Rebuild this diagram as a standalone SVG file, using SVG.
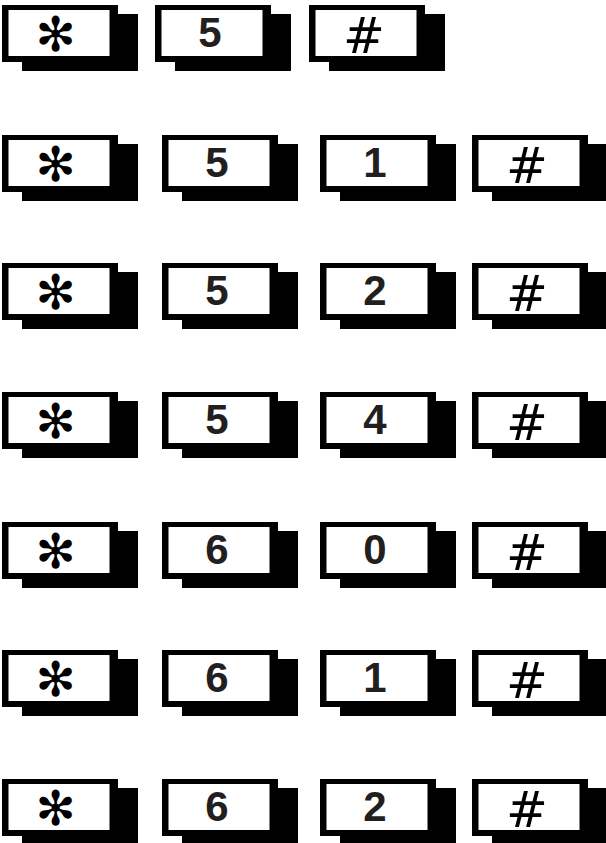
<svg xmlns="http://www.w3.org/2000/svg" xmlns:xlink="http://www.w3.org/1999/xlink" width="606" height="843" viewBox="0 0 606 843">
<style>
.digit{font-family:"Liberation Sans",Arial,sans-serif;font-weight:bold;font-size:42px;fill:#231f20;text-anchor:middle}
.hash{font-family:"DejaVu Sans",sans-serif;font-size:50px;fill:#000;text-anchor:middle}
.star{font-family:"DejaVu Sans",sans-serif;font-size:48px;fill:#000;text-anchor:middle}
</style>
<defs>
<g id="key">
<rect x="20" y="9" width="116" height="57" fill="#000"/>
<rect x="0" y="0" width="116" height="57" fill="#000"/>
<rect x="6.5" y="5" width="101" height="46" fill="#fff"/>
</g>
</defs>
<rect width="606" height="843" fill="#fff"/>
<g id="connectors"/>
<g id="r1k1"><use xlink:href="#key" x="2" y="5"/><text class="star" x="55.5" y="51">✻</text></g>
<g id="r1k2"><use xlink:href="#key" x="155" y="5"/><text class="digit" x="210" y="47">5</text></g>
<g id="r1k3"><use xlink:href="#key" x="309" y="5"/><text class="hash" x="364" y="53">#</text></g>

<g id="r2k1"><use xlink:href="#key" x="2" y="135"/><text class="star" x="55.5" y="181">✻</text></g>
<g id="r2k2"><use xlink:href="#key" x="162" y="135"/><text class="digit" x="217" y="177">5</text></g>
<g id="r2k3"><use xlink:href="#key" x="320" y="135"/><text class="digit" x="375" y="177">1</text></g>
<g id="r2k4"><use xlink:href="#key" x="472" y="135"/><text class="hash" x="527" y="183">#</text></g>

<g id="r3k1"><use xlink:href="#key" x="2" y="263"/><text class="star" x="55.5" y="309">✻</text></g>
<g id="r3k2"><use xlink:href="#key" x="162" y="263"/><text class="digit" x="217" y="305">5</text></g>
<g id="r3k3"><use xlink:href="#key" x="320" y="263"/><text class="digit" x="375" y="305">2</text></g>
<g id="r3k4"><use xlink:href="#key" x="472" y="263"/><text class="hash" x="527" y="311">#</text></g>

<g id="r4k1"><use xlink:href="#key" x="2" y="392"/><text class="star" x="55.5" y="438">✻</text></g>
<g id="r4k2"><use xlink:href="#key" x="162" y="392"/><text class="digit" x="217" y="434">5</text></g>
<g id="r4k3"><use xlink:href="#key" x="320" y="392"/><text class="digit" x="375" y="434">4</text></g>
<g id="r4k4"><use xlink:href="#key" x="472" y="392"/><text class="hash" x="527" y="440">#</text></g>

<g id="r5k1"><use xlink:href="#key" x="2" y="522"/><text class="star" x="55.5" y="568">✻</text></g>
<g id="r5k2"><use xlink:href="#key" x="162" y="522"/><text class="digit" x="217" y="564">6</text></g>
<g id="r5k3"><use xlink:href="#key" x="320" y="522"/><text class="digit" x="375" y="564">0</text></g>
<g id="r5k4"><use xlink:href="#key" x="472" y="522"/><text class="hash" x="527" y="570">#</text></g>

<g id="r6k1"><use xlink:href="#key" x="2" y="650"/><text class="star" x="55.5" y="696">✻</text></g>
<g id="r6k2"><use xlink:href="#key" x="162" y="650"/><text class="digit" x="217" y="692">6</text></g>
<g id="r6k3"><use xlink:href="#key" x="320" y="650"/><text class="digit" x="375" y="692">1</text></g>
<g id="r6k4"><use xlink:href="#key" x="472" y="650"/><text class="hash" x="527" y="698">#</text></g>

<g id="r7k1"><use xlink:href="#key" x="2" y="779"/><text class="star" x="55.5" y="825">✻</text></g>
<g id="r7k2"><use xlink:href="#key" x="162" y="779"/><text class="digit" x="217" y="821">6</text></g>
<g id="r7k3"><use xlink:href="#key" x="320" y="779"/><text class="digit" x="375" y="821">2</text></g>
<g id="r7k4"><use xlink:href="#key" x="472" y="779"/><text class="hash" x="527" y="827">#</text></g>
</svg>
